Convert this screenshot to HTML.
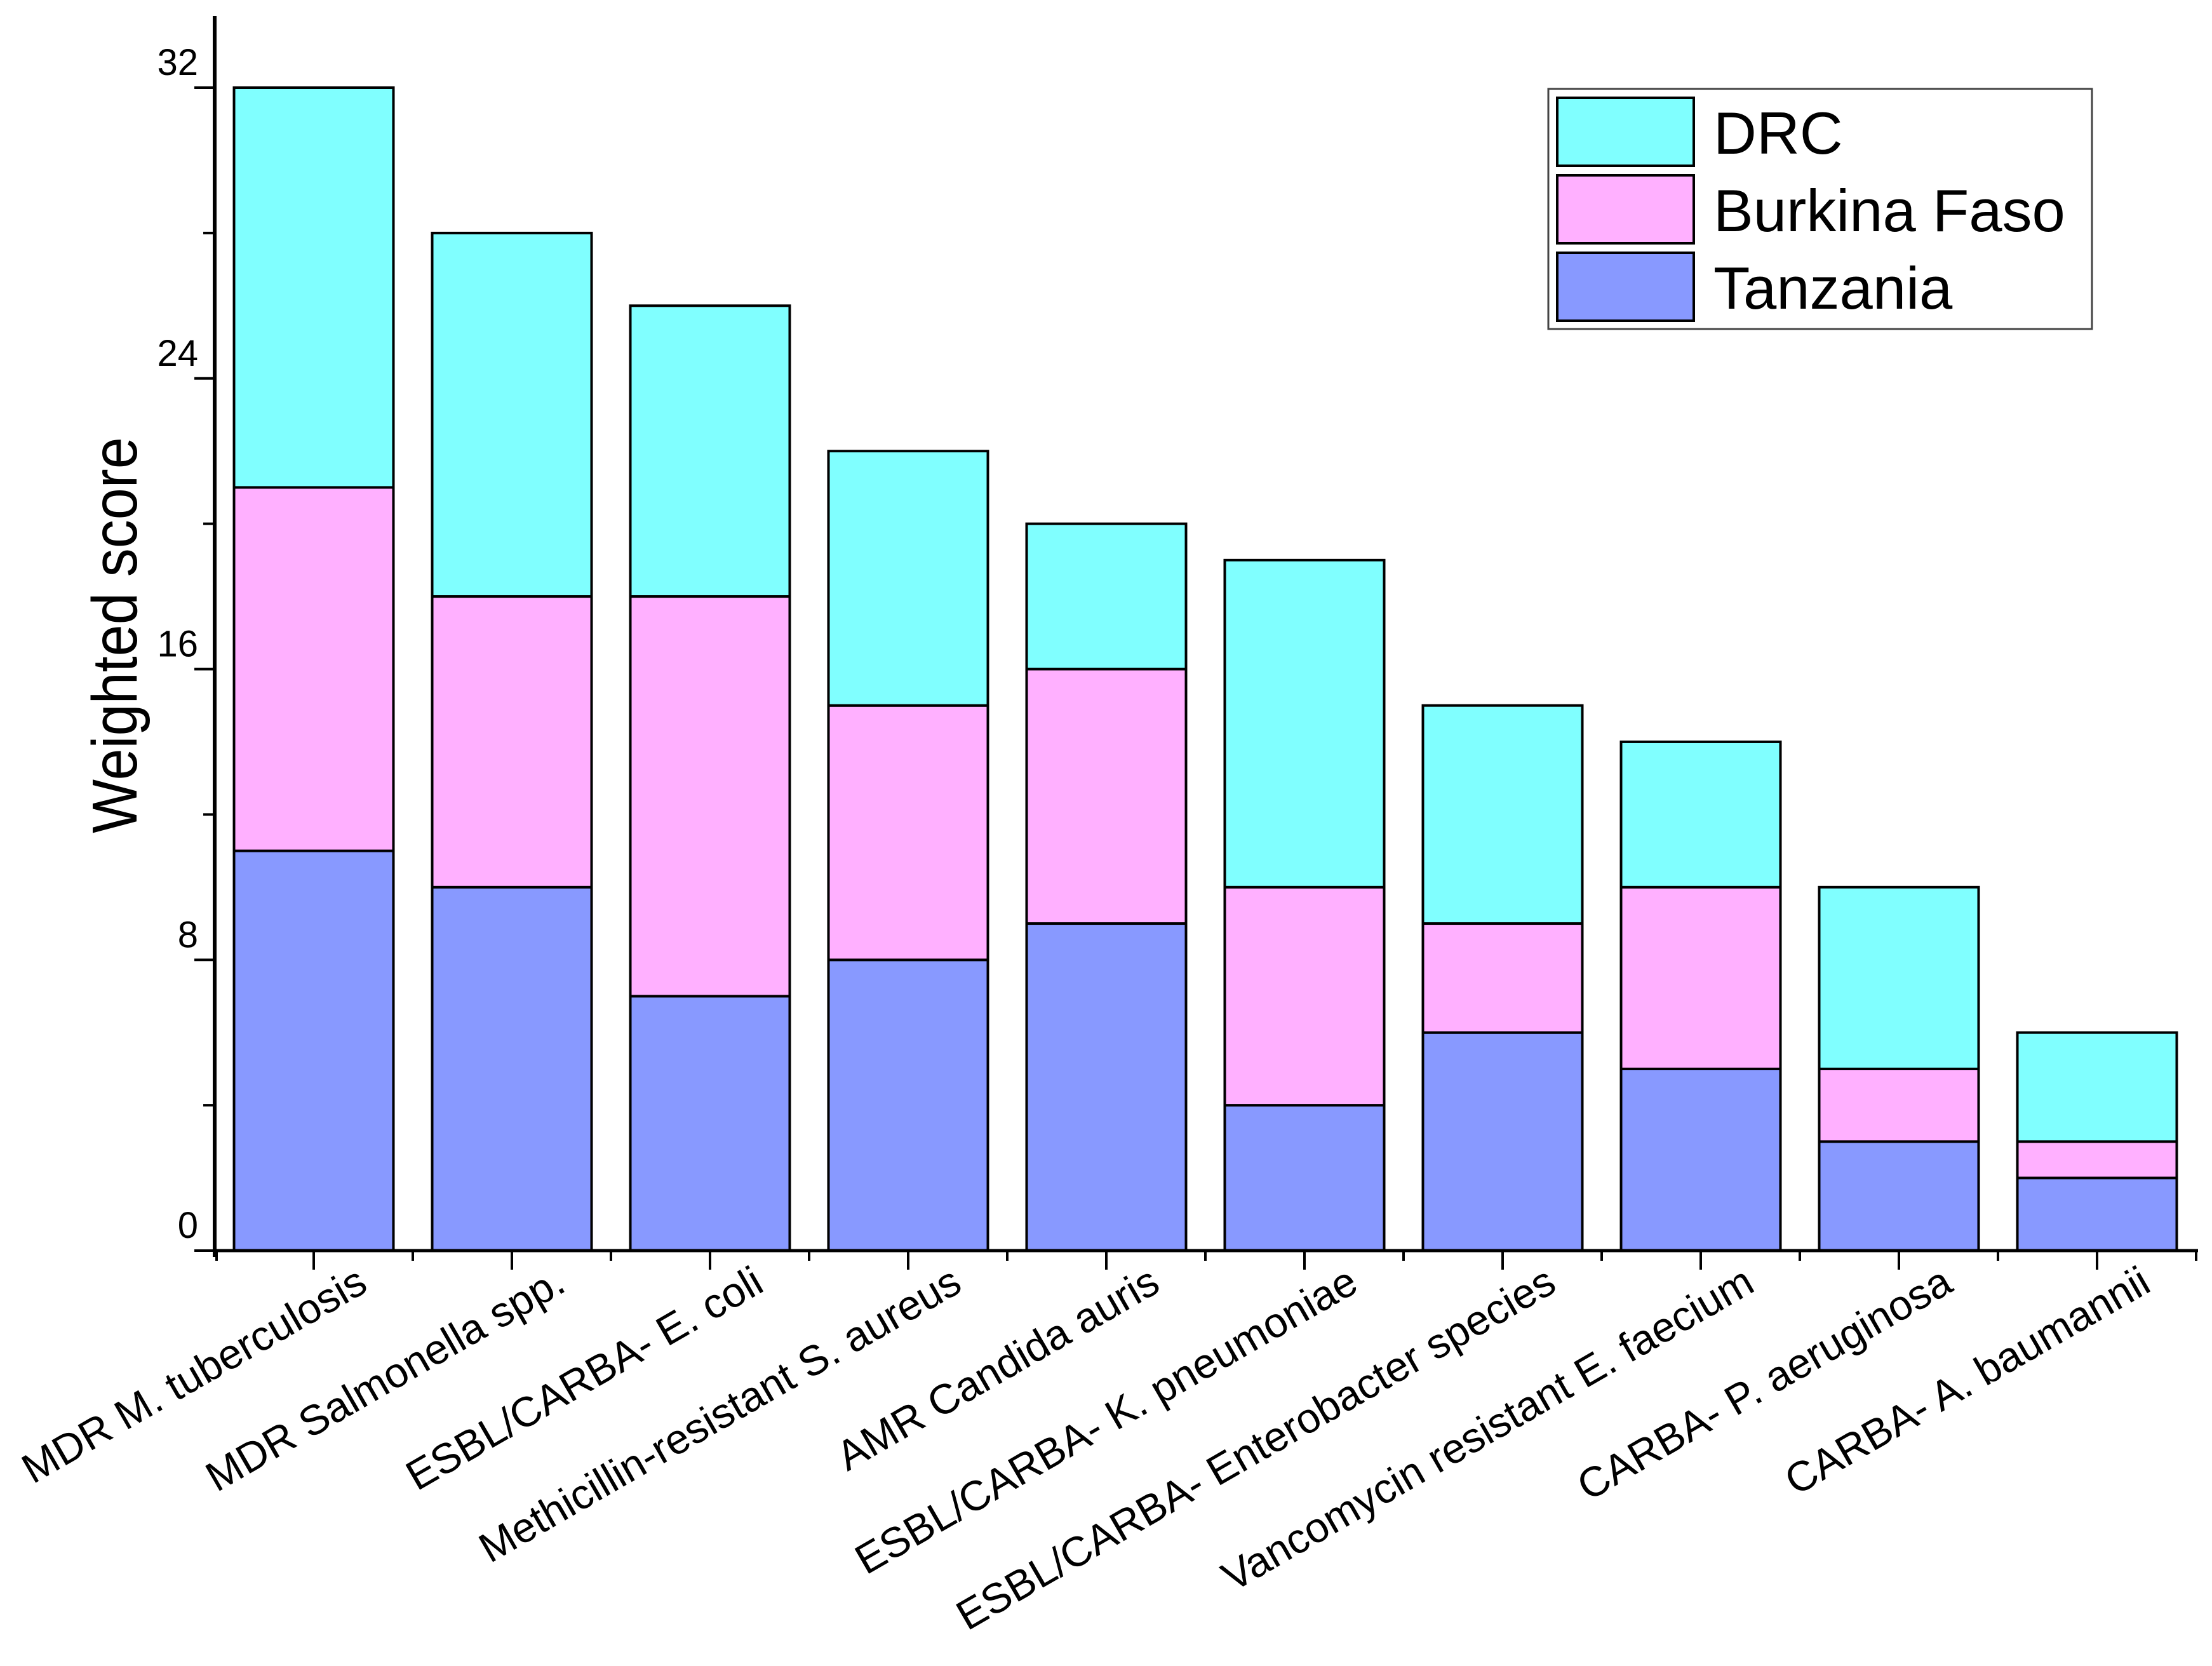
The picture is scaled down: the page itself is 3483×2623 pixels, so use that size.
<!DOCTYPE html>
<html><head><meta charset="utf-8"><style>
html,body{margin:0;padding:0;background:#fff;}
svg{display:block;}
text{font-family:"Liberation Sans",Arial,sans-serif;fill:#000;}
</style></head><body>
<svg id="chart" width="3483" height="2623" viewBox="0 0 3483 2623" xmlns="http://www.w3.org/2000/svg">
<g id="bars"></g>
<g id="axes"></g>
<text transform="translate(215,1000) rotate(-90) scale(0.9,1)" font-size="100" text-anchor="middle">Weighted score</text>
<g>
<rect x="2438" y="140" width="856" height="378" fill="#fff" stroke="#444" stroke-width="3"/>
<g><rect x="2452" y="154" width="215" height="107" fill="#80FFFF" stroke="#000" stroke-width="4"/><text x="2698" y="242" font-size="94">DRC</text></g>
<g><rect x="2452" y="276" width="215" height="107" fill="#FFB0FF" stroke="#000" stroke-width="4"/><text x="2698" y="364" font-size="94">Burkina Faso</text></g>
<g><rect x="2452" y="398" width="215" height="107" fill="#8899FF" stroke="#000" stroke-width="4"/><text x="2698" y="486" font-size="94">Tanzania</text></g>
</g>
</svg>
<script>
const categories = ["MDR M. tuberculosis","MDR Salmonella spp.","ESBL/CARBA- E. coli","Methicillin-resistant S. aureus","AMR Candida auris","ESBL/CARBA- K. pneumoniae","ESBL/CARBA- Enterobacter species","Vancomycin resistant E. faecium","CARBA- P. aeruginosa","CARBA- A. baumannii"];
const tanzania = [11,10,7,8,9,4,6,5,3,2];
const burkinaFaso = [10,8,11,7,7,6,3,5,2,1];
const drc = [11,10,8,7,4,9,6,4,5,3];
const yTicks = [0,8,16,24,32];
const yMinorTicks = [4,12,20,28];

const NS = "http://www.w3.org/2000/svg";
const x0 = 338, y0 = 1969, yTop = 138, yMax = 32;
const step = 312, barW = 251, firstCenter = 494;
function yScale(v){ return y0 - (v / yMax) * (y0 - yTop); }
function xCenter(i){ return firstCenter + i * step; }
function mk(tag, attrs, parent){ const e = document.createElementNS(NS, tag); for (const k in attrs) e.setAttribute(k, attrs[k]); parent.appendChild(e); return e; }

const bars = document.getElementById('bars');
const series = [[tanzania,'#8899FF','tanzania'],[burkinaFaso,'#FFB0FF','burkina-faso'],[drc,'#80FFFF','drc']];
categories.forEach((c, i) => {
  let base = 0;
  series.forEach(s => {
    const v = s[0][i];
    const r = mk('rect', {x: xCenter(i) - barW/2, y: yScale(base + v), width: barW, height: yScale(base) - yScale(base + v), fill: s[1], stroke: '#000', 'stroke-width': 4}, bars);
    
    
    base += v;
  });
});

const axes = document.getElementById('axes');
const ya = mk('line', {x1: x0, y1: 25, x2: x0, y2: y0 + 10, stroke: '#000', 'stroke-width': 6}, axes);


const xa = mk('line', {x1: x0 - 3, y1: y0, x2: 3461, y2: y0, stroke: '#000', 'stroke-width': 5}, axes);


yTicks.forEach(t => {
  const y = yScale(t);
  mk('line', {x1: x0 - 32, y1: y, x2: x0, y2: y, stroke: '#000', 'stroke-width': 4}, axes);
  const tx = mk('text', {x: 312, y: y - 20, 'font-size': 58, 'text-anchor': 'end'}, axes);
  tx.textContent = t;
  
  
});
yMinorTicks.forEach(t => { mk('line', {x1: x0 - 18, y1: yScale(t), x2: x0, y2: yScale(t), stroke: '#000', 'stroke-width': 4}, axes); });
categories.forEach((c, i) => {
  const x = xCenter(i);
  mk('line', {x1: x, y1: y0, x2: x, y2: y0 + 30, stroke: '#000', 'stroke-width': 4}, axes);
  mk('line', {x1: x + step/2, y1: y0, x2: x + step/2, y2: y0 + 16, stroke: '#000', 'stroke-width': 4}, axes);
  const tx = mk('text', {x: 0, y: 0, 'font-size': 66, 'text-anchor': 'end', transform: 'translate(' + (x + 88) + ',' + (y0 + 62) + ') rotate(-30)'}, axes);
  tx.textContent = c;
  
  
});
mk('line', {x1: x0 + 3, y1: y0, x2: x0 + 3, y2: y0 + 16, stroke: '#000', 'stroke-width': 4}, axes);
</script>
</body></html>
